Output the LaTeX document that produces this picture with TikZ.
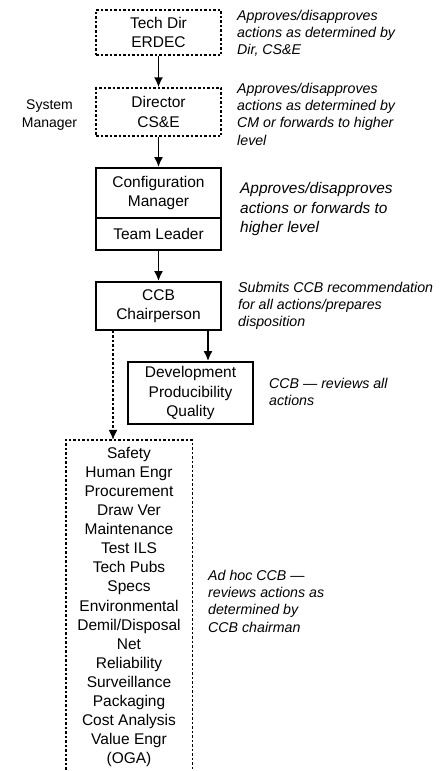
\documentclass[tikz,border=0pt]{standalone}
\usepackage{fontspec}
\setmainfont{Liberation Sans}
\usetikzlibrary{arrows.meta}
\begin{document}
\begin{tikzpicture}[x=1pt,y=-1pt,
 boxtext/.style={font=\fontsize{15.5pt}{19.1pt}\selectfont, align=center, inner sep=0pt},
 solidbox/.style={boxtext, draw, line width=1.8pt, minimum width=125pt},
 dashbox/.style={boxtext, draw, line width=1.4pt, dash pattern=on 2.5pt off 2pt, minimum width=125pt},
 side/.style={font=\fontsize{14.2pt}{17.2pt}\selectfont\itshape, align=left, inner sep=0pt, anchor=north west},
 arr/.style={-{Latex[length=10pt,width=9pt]}, line width=1.8pt},
 darr/.style={-{Latex[length=10pt,width=9pt]}, line width=1.4pt, dash pattern=on 2.5pt off 2pt},
 frame/.style={line width=1.4pt, dash pattern=on 2.5pt off 2pt}]
\useasboundingbox (0,0) rectangle (440,771);

\node[dashbox, minimum height=45pt] (td) at (158.5,32.5) {Tech Dir\\ERDEC};
\node[dashbox, minimum height=48pt] (dir) at (158.5,112) {Director\\CS\&E};
\node[solidbox, minimum height=50pt] (cm) at (158.5,193) {Configuration\\Manager};
\node[solidbox, minimum height=32pt] (tl) at (158.5,234) {Team Leader};
\node[solidbox, minimum height=48pt] (ccb) at (158.5,306) {CCB\\Chairperson};
\node[solidbox, minimum height=62pt] (dev) at (190.5,393) {Development\\Producibility\\Quality};
\node[boxtext, minimum width=126pt, minimum height=334pt] (adhoc) at (129,607)
 {Safety\\Human Engr\\Procurement\\Draw Ver\\Maintenance\\Test ILS\\Tech Pubs\\Specs\\Environmental\\Demil/Disposal\\Net\\Reliability\\Surveillance\\Packaging\\Cost Analysis\\Value Engr\\(OGA)};
\draw[frame] (adhoc.south west) -- (adhoc.north west) -- (adhoc.north east) -- (adhoc.south east);

\node[font=\fontsize{14pt}{18pt}\selectfont, align=center, inner sep=0pt, anchor=north] (sm) at (49.5,100) {System\\Manager};

\node[side] (s1) at (237,10) {Approves/disapproves\\actions as determined by\\Dir, CS\&E};
\node[side] (s2) at (237,83) {Approves/disapproves\\actions as determined by\\CM or forwards to higher\\level};
\node[side, font=\fontsize{15.4pt}{19.8pt}\selectfont\itshape] (s3) at (240,182) {Approves/disapproves\\actions or forwards to\\higher level};
\node[side] (s4) at (238,282) {Submits CCB recommendation\\for all actions/prepares\\disposition};
\node[side] (s5) at (269,378) {CCB — reviews all\\actions};
\node[side] (s6) at (208,570) {Ad hoc CCB —\\reviews actions as\\determined by\\CCB chairman};

\coordinate (c1) at (208,0);
\coordinate (c2) at (113,0);
\draw[arr] (td) -- (dir);
\draw[arr] (dir) -- (cm);
\draw[arr] (tl) -- (ccb);
\draw[arr] (ccb.south -| c1) -- (dev.north -| c1);
\draw[darr] (ccb.south -| c2) -- (adhoc.north -| c2);
\end{tikzpicture}
\end{document}
